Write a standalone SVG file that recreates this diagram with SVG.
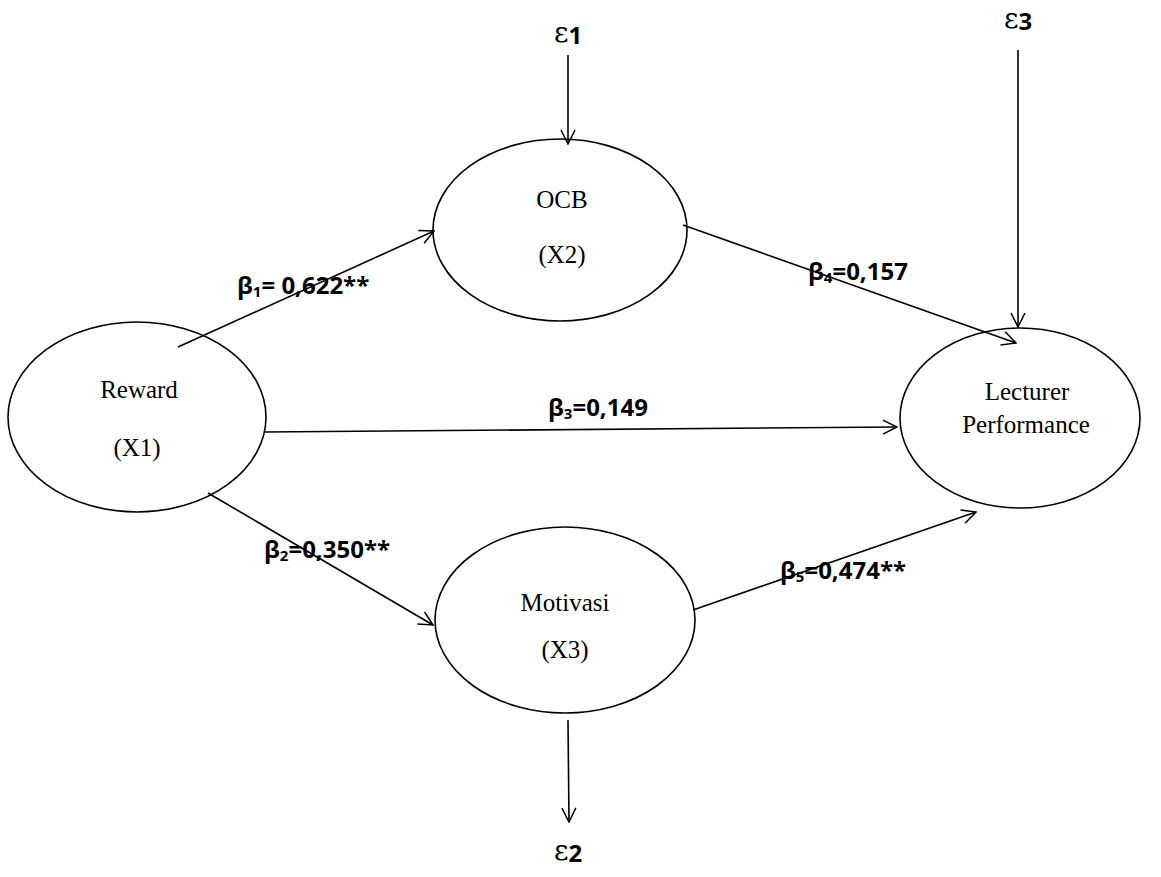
<svg xmlns="http://www.w3.org/2000/svg" width="1161" height="877" viewBox="0 0 1161 877">
<style>
.node{fill:#fff;stroke:#000;stroke-width:1.6}
.nt{font-family:"Liberation Serif",serif;font-size:25px;fill:#000;text-anchor:middle}
.lbl{font-family:"Open Sans","Liberation Sans",sans-serif;font-weight:bold;font-size:24px;fill:#000}
.sub{font-size:15px}
.eps{font-family:"DejaVu Serif","Liberation Serif",serif;font-size:28px;fill:#000;text-anchor:middle}
.con{stroke:#000;stroke-width:1.6;fill:none;marker-end:url(#arr)}
</style>
<defs>
<marker id="arr" viewBox="0 0 16 16" refX="15" refY="8" markerWidth="16" markerHeight="16" markerUnits="userSpaceOnUse" orient="auto">
<path d="M1,1 L15,8 L1,15" fill="none" stroke="#000" stroke-width="1.5"/>
</marker>
</defs>
<g id="reward">
<ellipse class="node" cx="137" cy="417" rx="129" ry="95"/>
<text class="nt" x="139" y="398">Reward</text>
<text class="nt" x="137" y="456">(X1)</text>
</g>
<g id="ocb">
<ellipse class="node" cx="560" cy="230" rx="127" ry="91"/>
<text class="nt" x="562" y="208">OCB</text>
<text class="nt" x="562" y="263">(X2)</text>
</g>
<g id="motivasi">
<ellipse class="node" cx="565" cy="620" rx="130" ry="93"/>
<text class="nt" x="565" y="611">Motivasi</text>
<text class="nt" x="565" y="658">(X3)</text>
</g>
<g id="lecturer">
<ellipse class="node" cx="1020" cy="418" rx="120" ry="90"/>
<text class="nt" x="1027" y="400">Lecturer</text>
<text class="nt" x="1026" y="433">Performance</text>
</g>
<g id="connectors">
<line class="con" x1="568" y1="55" x2="568" y2="144"/>
<line class="con" x1="1018" y1="50" x2="1018" y2="327"/>
<line class="con" x1="568" y1="720" x2="569" y2="822"/>
<line class="con" x1="178" y1="347" x2="434" y2="231"/>
<line class="con" x1="683" y1="225" x2="1016" y2="343"/>
<line class="con" x1="265" y1="432" x2="897" y2="427"/>
<line class="con" x1="208" y1="493" x2="433" y2="625"/>
<line class="con" x1="693" y1="610" x2="976" y2="512"/>
</g>
<g id="labels">
<text class="lbl" x="237" y="294">β<tspan class="sub" dy="3">1</tspan><tspan dy="-3">= 0,622**</tspan></text>
<text class="lbl" x="808" y="280">β<tspan class="sub" dy="3">4</tspan><tspan dy="-3">=0,157</tspan></text>
<text class="lbl" x="548" y="416">β<tspan class="sub" dy="3">3</tspan><tspan dy="-3">=0,149</tspan></text>
<text class="lbl" x="264" y="558">β<tspan class="sub" dy="3">2</tspan><tspan dy="-3">=0,350**</tspan></text>
<text class="lbl" x="780" y="579">β<tspan class="sub" dy="3">5</tspan><tspan dy="-3">=0,474**</tspan></text>
</g>
<g id="errors">
<text class="eps" x="568" y="42">ε<tspan class="lbl" font-size="20" dy="2">1</tspan></text>
<text class="eps" x="1018" y="28">ε<tspan class="lbl" font-size="20" dy="2">3</tspan></text>
<text class="eps" x="568" y="860">ε<tspan class="lbl" font-size="20" dy="2">2</tspan></text>
</g>
</svg>
